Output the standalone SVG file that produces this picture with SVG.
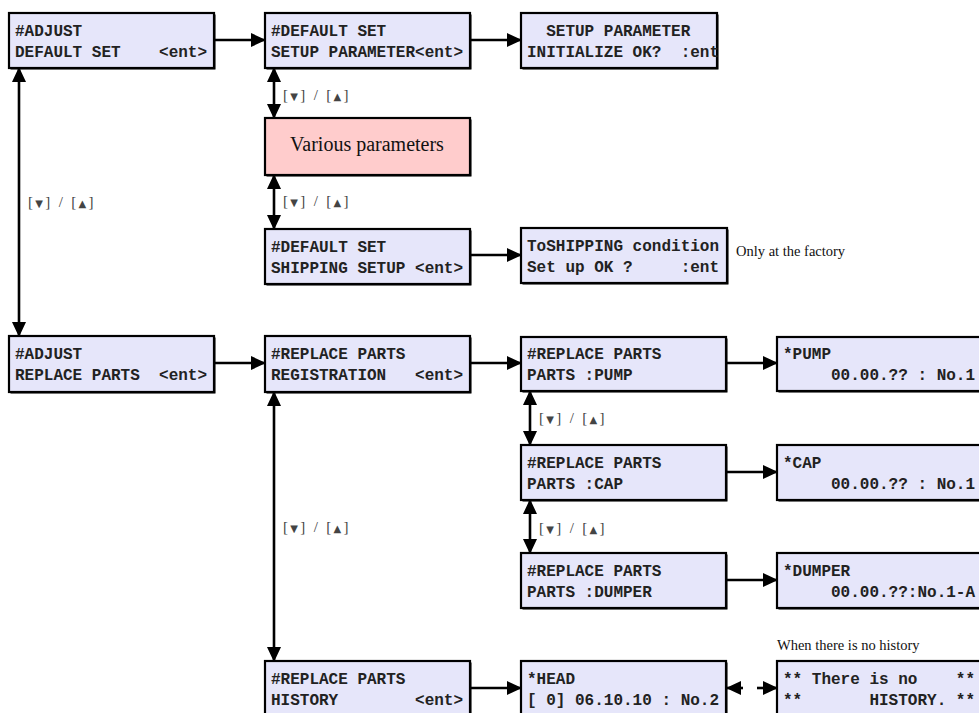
<svg xmlns="http://www.w3.org/2000/svg" width="979" height="713" viewBox="0 0 979 713">
<defs>
<style>
.box{fill:#e6e6fa;stroke:#000;stroke-width:2.2}
.sh{fill:#000}
.pink{fill:#ffcccc;stroke:#000;stroke-width:2.2}
.mono{font-family:"Liberation Mono","DejaVu Sans Mono",monospace;font-weight:bold;font-size:16px;fill:#222}
.ser{font-family:"Liberation Serif","DejaVu Serif",serif;fill:#111}
.lbl{font-family:"Liberation Serif","DejaVu Sans",serif;font-size:15px;fill:#444;letter-spacing:2.3px}
.tri{font-family:"DejaVu Sans",sans-serif;font-size:10px}
.ln{stroke:#000;stroke-width:2.6;fill:none}
.a{marker-end:url(#ah)}
.b{marker-start:url(#ahs);marker-end:url(#ah)}
</style>
<marker id="ah" markerUnits="userSpaceOnUse" markerWidth="15" markerHeight="14" refX="14" refY="7" orient="auto"><path d="M0,0L15,7L0,14z" fill="#000"/></marker>
<marker id="ahs" markerUnits="userSpaceOnUse" markerWidth="15" markerHeight="14" refX="1" refY="7" orient="auto"><path d="M15,0L0,7L15,14z" fill="#000"/></marker>
</defs>
<rect width="979" height="713" fill="#fff"/>

<g id="connectors">
<line class="ln a" x1="214" y1="40" x2="265" y2="40"/>
<line class="ln a" x1="470" y1="40" x2="521" y2="40"/>
<line class="ln b" x1="19" y1="68" x2="19" y2="336"/>
<line class="ln b" x1="274" y1="68" x2="274" y2="118"/>
<line class="ln b" x1="274" y1="175" x2="274" y2="229"/>
<line class="ln a" x1="470" y1="255" x2="521" y2="255"/>
<line class="ln a" x1="214" y1="363" x2="265" y2="363"/>
<line class="ln a" x1="470" y1="363" x2="521" y2="363"/>
<line class="ln a" x1="726" y1="363" x2="777" y2="363"/>
<line class="ln b" x1="530" y1="391" x2="530" y2="445"/>
<line class="ln a" x1="726" y1="472" x2="777" y2="472"/>
<line class="ln b" x1="530" y1="500" x2="530" y2="553"/>
<line class="ln a" x1="726" y1="580" x2="777" y2="580"/>
<line class="ln b" x1="274" y1="392" x2="274" y2="661"/>
<line class="ln a" x1="470" y1="688" x2="521" y2="688"/>
<line class="ln a" x1="743" y1="688" x2="727" y2="688"/>
<line class="ln a" x1="757" y1="688" x2="777" y2="688"/>
<text class="lbl" x="28" y="207">[<tspan class="tri">▼</tspan>] / [<tspan class="tri">▲</tspan>]</text>
<text class="lbl" x="283" y="100">[<tspan class="tri">▼</tspan>] / [<tspan class="tri">▲</tspan>]</text>
<text class="lbl" x="283" y="206">[<tspan class="tri">▼</tspan>] / [<tspan class="tri">▲</tspan>]</text>
<text class="lbl" x="539" y="423">[<tspan class="tri">▼</tspan>] / [<tspan class="tri">▲</tspan>]</text>
<text class="lbl" x="539" y="533">[<tspan class="tri">▼</tspan>] / [<tspan class="tri">▲</tspan>]</text>
<text class="lbl" x="283" y="532">[<tspan class="tri">▼</tspan>] / [<tspan class="tri">▲</tspan>]</text>
</g>

<g id="n1"><rect class="sh" x="10.5" y="14.5" width="205" height="55"/><rect class="box" x="9" y="13" width="205" height="55"/>
<text class="mono" x="15" y="36" xml:space="preserve">#ADJUST</text><text class="mono" x="15" y="56.5" xml:space="preserve">DEFAULT SET    &lt;ent&gt;</text></g>

<g id="n2"><rect class="sh" x="266.5" y="14.5" width="205" height="55"/><rect class="box" x="265" y="13" width="205" height="55"/>
<text class="mono" x="271" y="36" xml:space="preserve">#DEFAULT SET</text><text class="mono" x="271" y="56.5" xml:space="preserve">SETUP PARAMETER&lt;ent&gt;</text></g>

<g id="n3"><rect class="sh" x="522.5" y="14.5" width="196" height="55"/><rect class="box" x="521" y="13" width="196" height="55"/>
<text class="mono" x="527" y="36" xml:space="preserve">  SETUP PARAMETER</text><text class="mono" x="527" y="56.5" xml:space="preserve">INITIALIZE OK?  :ent</text></g>

<g id="n4"><rect class="sh" x="266.5" y="119.5" width="205" height="57"/><rect class="pink" x="265" y="118" width="205" height="57"/>
<text class="ser" x="367" y="151" font-size="20" text-anchor="middle">Various parameters</text></g>

<g id="n5"><rect class="sh" x="266.5" y="230.5" width="205" height="55"/><rect class="box" x="265" y="229" width="205" height="55"/>
<text class="mono" x="271" y="252" xml:space="preserve">#DEFAULT SET</text><text class="mono" x="271" y="272.5" xml:space="preserve">SHIPPING SETUP &lt;ent&gt;</text></g>

<g id="n6"><rect class="sh" x="522.5" y="229.5" width="206" height="55"/><rect class="box" x="521" y="228" width="206" height="55"/>
<text class="mono" x="527" y="251" xml:space="preserve">ToSHIPPING condition</text><text class="mono" x="527" y="271.5" xml:space="preserve">Set up OK ?     :ent</text></g>
<text class="ser" x="736" y="256" font-size="14.5">Only at the factory</text>

<g id="n7"><rect class="sh" x="10.5" y="337.5" width="205" height="56"/><rect class="box" x="9" y="336" width="205" height="56"/>
<text class="mono" x="15" y="359" xml:space="preserve">#ADJUST</text><text class="mono" x="15" y="379.5" xml:space="preserve">REPLACE PARTS  &lt;ent&gt;</text></g>

<g id="n8"><rect class="sh" x="266.5" y="337.5" width="205" height="56"/><rect class="box" x="265" y="336" width="205" height="56"/>
<text class="mono" x="271" y="359" xml:space="preserve">#REPLACE PARTS</text><text class="mono" x="271" y="379.5" xml:space="preserve">REGISTRATION   &lt;ent&gt;</text></g>

<g id="n9"><rect class="sh" x="522.5" y="338.5" width="205" height="54"/><rect class="box" x="521" y="337" width="205" height="54"/>
<text class="mono" x="527" y="359" xml:space="preserve">#REPLACE PARTS</text><text class="mono" x="527" y="379.5" xml:space="preserve">PARTS :PUMP</text></g>

<g id="n10"><rect class="sh" x="778.5" y="338.5" width="205" height="54"/><rect class="box" x="777" y="337" width="205" height="54"/>
<text class="mono" x="783" y="359" xml:space="preserve">*PUMP</text><text class="mono" x="783" y="379.5" xml:space="preserve">     00.00.?? : No.1</text></g>

<g id="n11"><rect class="sh" x="522.5" y="446.5" width="205" height="55"/><rect class="box" x="521" y="445" width="205" height="55"/>
<text class="mono" x="527" y="468" xml:space="preserve">#REPLACE PARTS</text><text class="mono" x="527" y="488.5" xml:space="preserve">PARTS :CAP</text></g>

<g id="n12"><rect class="sh" x="778.5" y="446.5" width="205" height="55"/><rect class="box" x="777" y="445" width="205" height="55"/>
<text class="mono" x="783" y="468" xml:space="preserve">*CAP</text><text class="mono" x="783" y="488.5" xml:space="preserve">     00.00.?? : No.1</text></g>

<g id="n13"><rect class="sh" x="522.5" y="554.5" width="205" height="55"/><rect class="box" x="521" y="553" width="205" height="55"/>
<text class="mono" x="527" y="576" xml:space="preserve">#REPLACE PARTS</text><text class="mono" x="527" y="596.5" xml:space="preserve">PARTS :DUMPER</text></g>

<g id="n14"><rect class="sh" x="778.5" y="554.5" width="205" height="55"/><rect class="box" x="777" y="553" width="205" height="55"/>
<text class="mono" x="783" y="576" xml:space="preserve">*DUMPER</text><text class="mono" x="783" y="596.5" xml:space="preserve">     00.00.??:No.1-A</text></g>

<g id="n15"><rect class="sh" x="266.5" y="662.5" width="205" height="55"/><rect class="box" x="265" y="661" width="205" height="55"/>
<text class="mono" x="271" y="684" xml:space="preserve">#REPLACE PARTS</text><text class="mono" x="271" y="704.5" xml:space="preserve">HISTORY        &lt;ent&gt;</text></g>

<g id="n16"><rect class="sh" x="522.5" y="662.5" width="205" height="55"/><rect class="box" x="521" y="661" width="205" height="55"/>
<text class="mono" x="527" y="684" xml:space="preserve">*HEAD</text><text class="mono" x="527" y="704.5" xml:space="preserve">[ 0] 06.10.10 : No.2</text></g>

<g id="n17"><rect class="sh" x="778.5" y="662.5" width="205" height="55"/><rect class="box" x="777" y="661" width="205" height="55"/>
<text class="mono" x="783" y="684" xml:space="preserve">** There is no    **</text><text class="mono" x="783" y="704.5" xml:space="preserve">**       HISTORY. **</text></g>
<text class="ser" x="777" y="650" font-size="14.5">When there is no history</text>
</svg>
